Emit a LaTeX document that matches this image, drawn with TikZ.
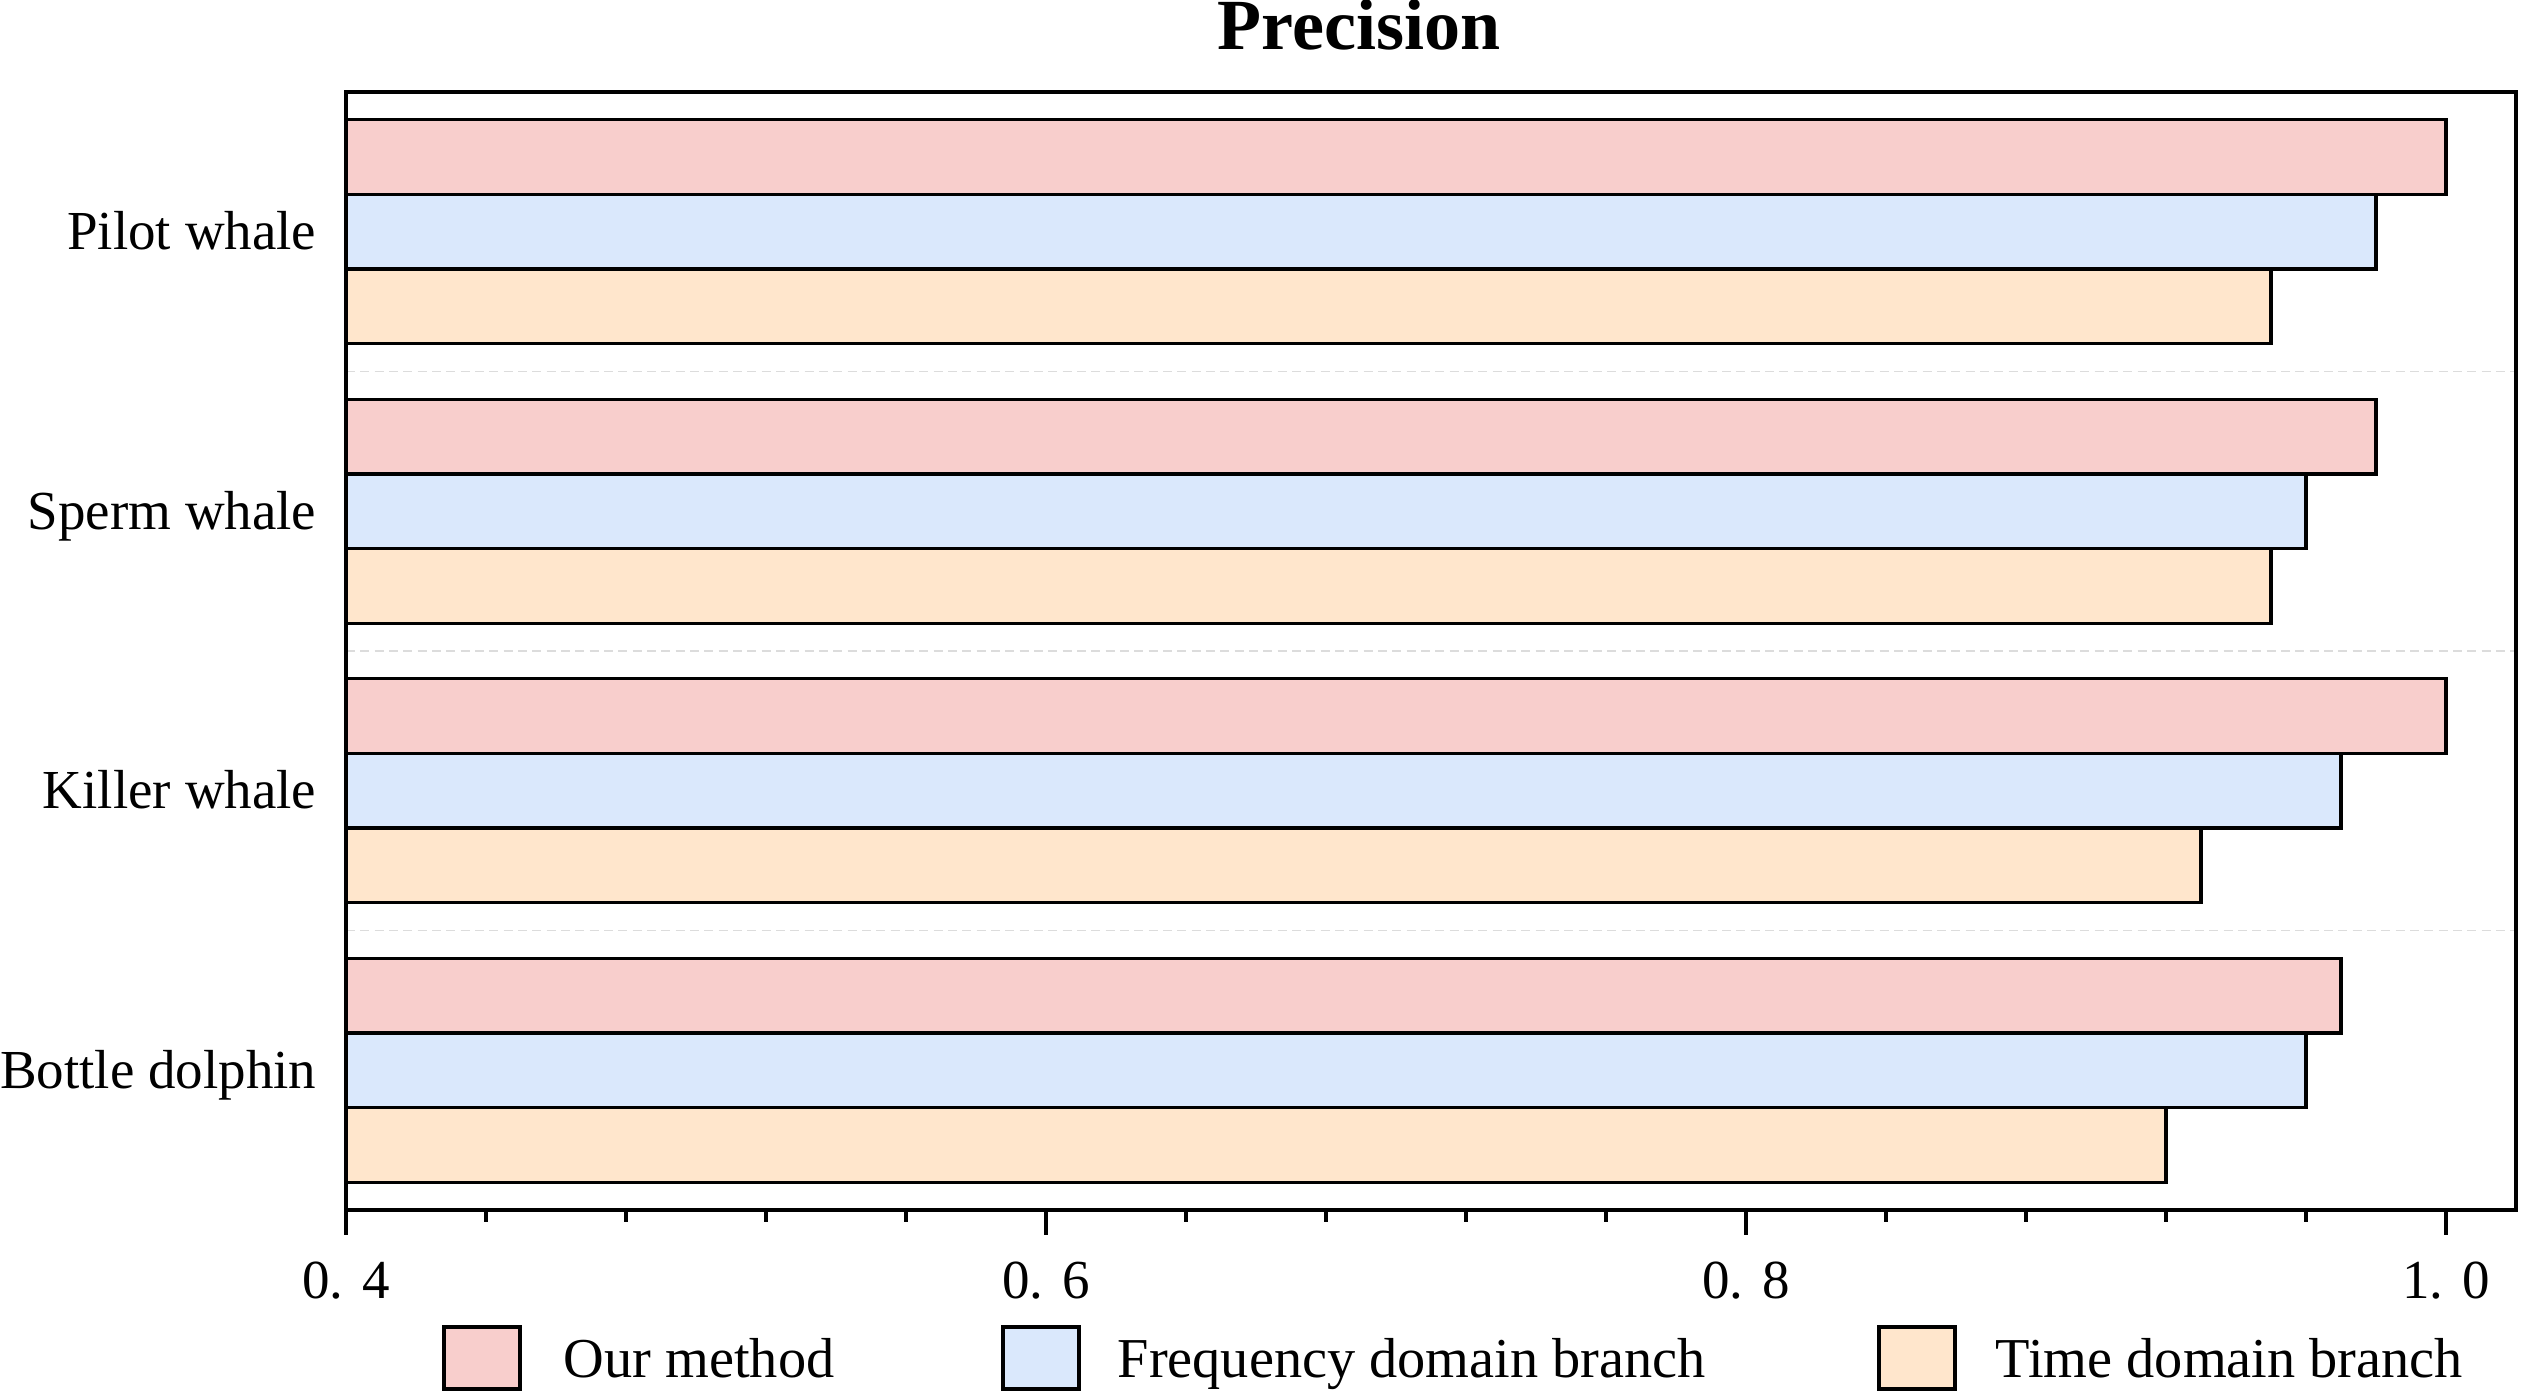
\documentclass[tikz,border=0pt]{standalone}
\usepackage{fontspec}
\setmainfont{Liberation Serif}
\definecolor{cpink}{HTML}{F8CECC}
\definecolor{cblue}{HTML}{DAE8FC}
\definecolor{corange}{HTML}{FFE6CC}
\definecolor{cgrid}{HTML}{DCDCDC}
\begin{document}
\begin{tikzpicture}[x=0.3pt,y=-0.3pt,
  bar/.style={draw=black,line width=1.0pt},
  frameline/.style={draw=black,line width=1.35pt},
  sep/.style={draw=cgrid,line width=0.45pt,dash pattern=on 2.7pt off 1.6pt},
  lbl/.style={font=\fontsize{16.5}{19}\selectfont,inner sep=0pt},
  leg/.style={font=\fontsize{16.9}{19}\selectfont,inner sep=0pt},
  ttl/.style={font=\fontsize{21.6}{24}\selectfont\bfseries,inner sep=0pt}]
\useasboundingbox (0,0) rectangle (2521,1391);
% separators
\foreach \s in {1,2,3}
  \draw[sep] (346,{92+\s*279.5}) -- (2516,{92+\s*279.5});
% bars
\foreach \i/\a/\b/\c in {0/1.0/0.98/0.95, 1/0.98/0.96/0.95, 2/1.0/0.97/0.93, 3/0.97/0.96/0.92}{
  \pgfmathsetmacro{\yt}{92+\i*279.5+27.75}
  \draw[bar,fill=cpink]   (346,\yt) rectangle ({346+(\a-0.4)*3500},{\yt+74.67});
  \draw[bar,fill=cblue]   (346,{\yt+74.67}) rectangle ({346+(\b-0.4)*3500},{\yt+149.33});
  \draw[bar,fill=corange] (346,{\yt+149.33}) rectangle ({346+(\c-0.4)*3500},{\yt+224});
}
% frame
\draw[frameline] (346,92) rectangle (2516,1210);
% ticks
\foreach \k in {0,...,15}
  \draw[frameline] ({346+\k*140},1210) -- ({346+\k*140},1222);
\foreach \k in {0,5,10,15}
  \draw[frameline] ({346+\k*140},1210) -- ({346+\k*140},1235);
% tick labels
\node[lbl,anchor=base] (t1) at (346,1298) {0. 4};
\node[lbl,anchor=base] (t2) at (1046,1298) {0. 6};
\node[lbl,anchor=base] (t3) at (1746,1298) {0. 8};
\node[lbl,anchor=base] (t4) at (2446,1298) {1. 0};
% category labels
\node[lbl,anchor=base east] (c1) at (317,{92+0*279.5+139.75+18}) {Pilot whale};
\node[lbl,anchor=base east] (c2) at (317,{92+1*279.5+139.75+18}) {Sperm whale};
\node[lbl,anchor=base east] (c3) at (317,{92+2*279.5+139.75+18}) {Killer whale};
\node[lbl,anchor=base east] (c4) at (317,{92+3*279.5+139.75+18}) {Bottle dolphin};
% title
\node[ttl,anchor=base] (title) at (1359,49.5) {Precision};
% legend
\draw[bar,fill=cpink]   (444,1327) rectangle (520,1389);
\draw[bar,fill=cblue]   (1003,1327) rectangle (1079,1389);
\draw[bar,fill=corange] (1879,1327) rectangle (1955,1389);
\node[leg,anchor=base west] (l1) at (563,1377) {Our method};
\node[leg,anchor=base west] (l2) at (1117,1377) {Frequency domain branch};
\node[leg,anchor=base west] (l3) at (1995,1377) {Time domain branch};
\end{tikzpicture}
\end{document}
